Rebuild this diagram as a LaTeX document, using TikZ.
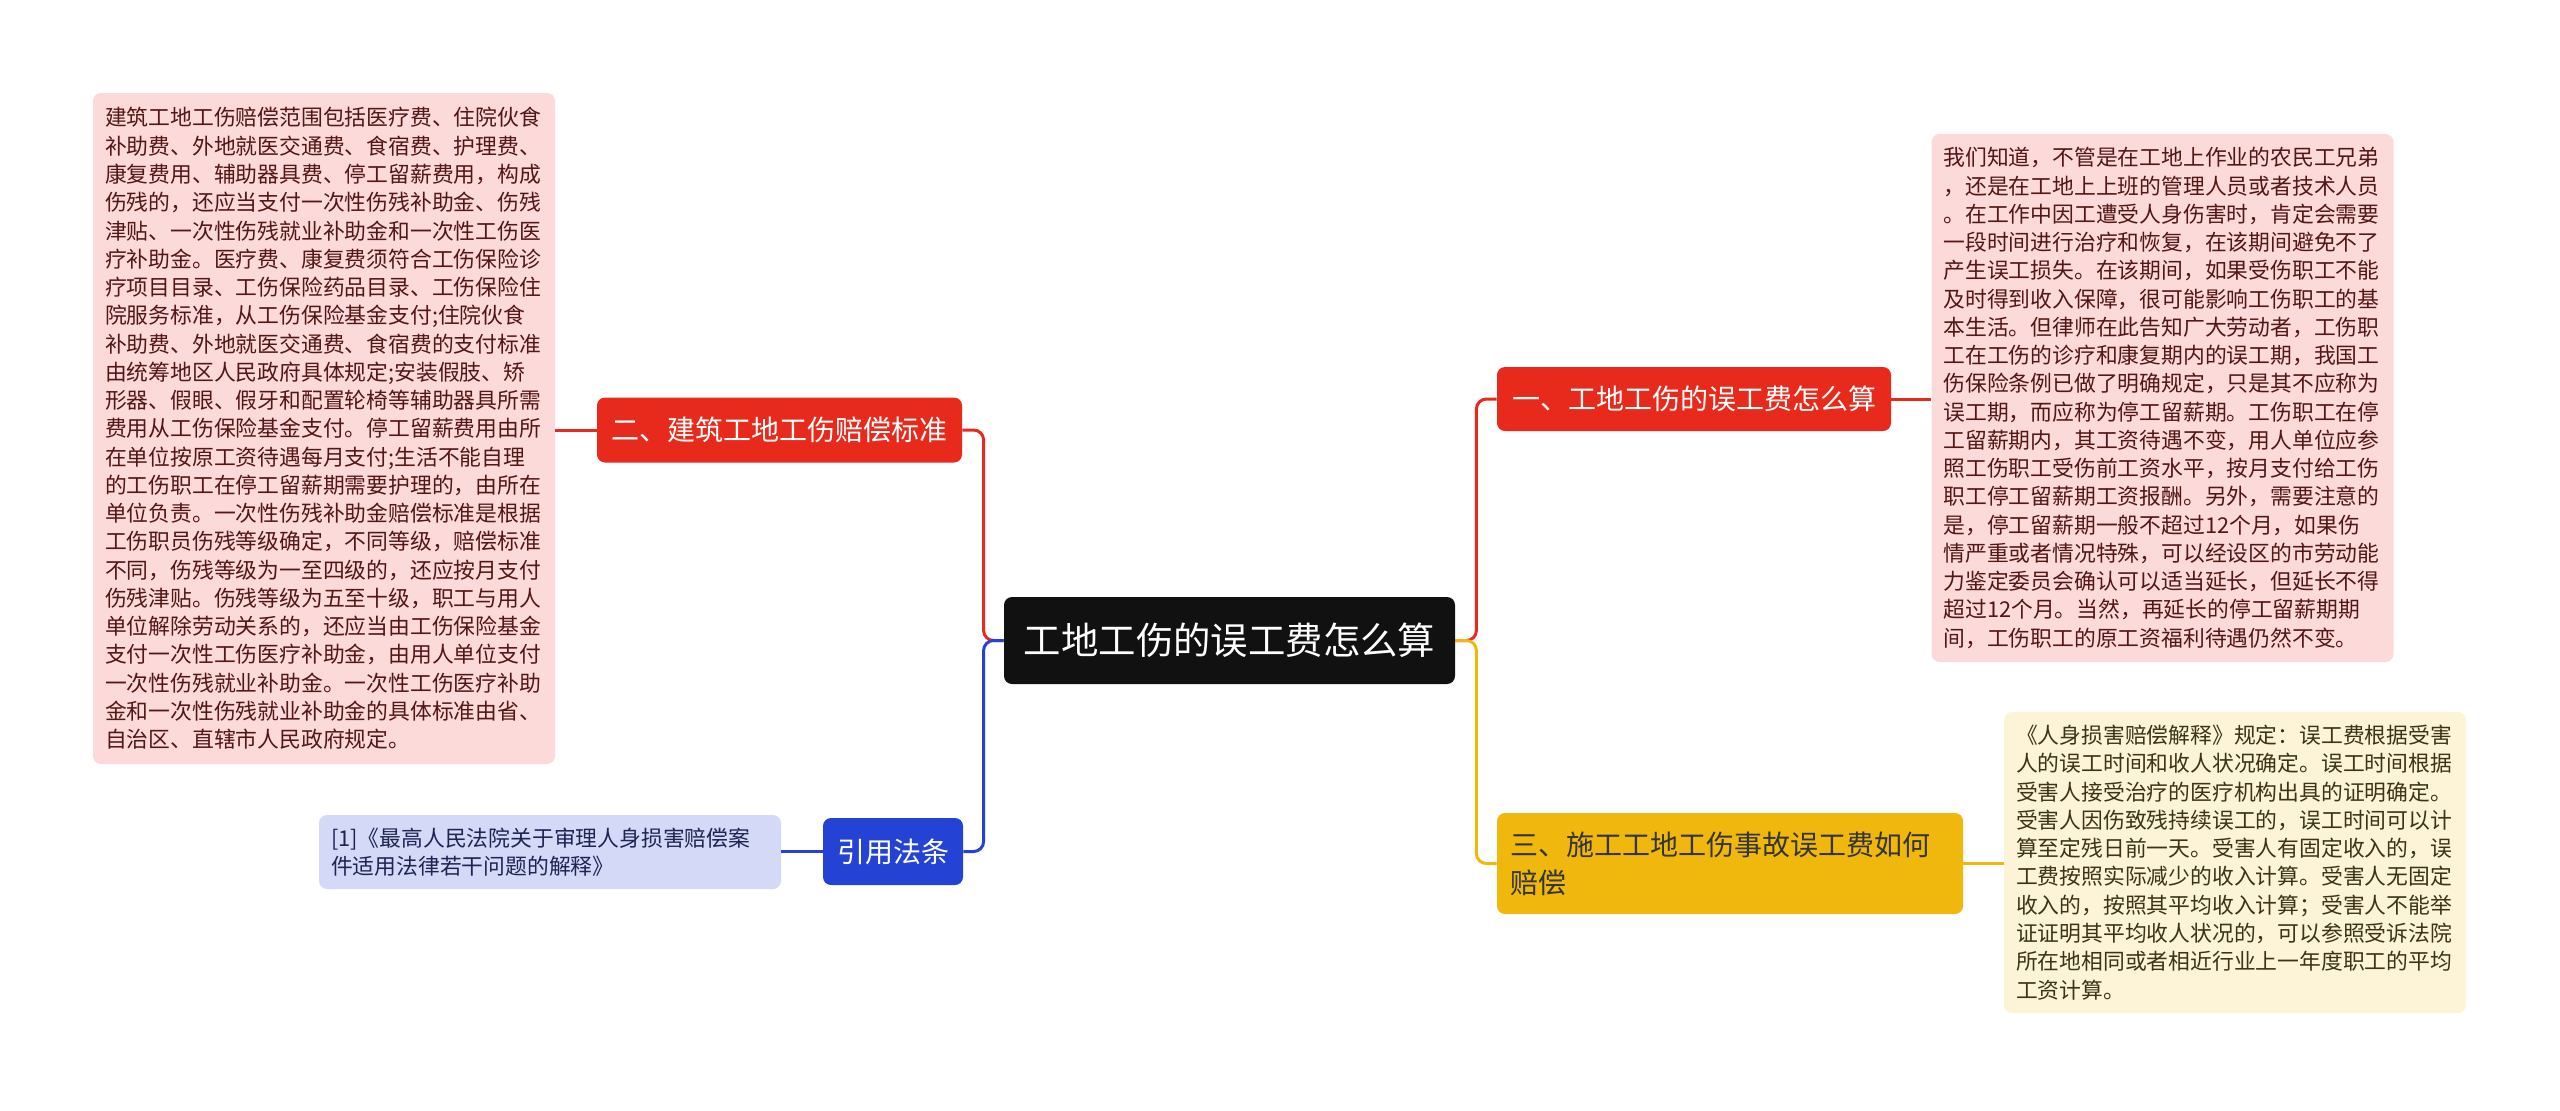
\documentclass[tikz,border=0pt]{standalone}
\usepackage{fontspec}
\setmainfont{Noto Sans CJK SC}
\usepackage{xcolor}
\usetikzlibrary{positioning}

\definecolor{mmred}{RGB}{232,42,28}
\definecolor{mmpink}{RGB}{251,218,217}
\definecolor{mmyellow}{RGB}{240,183,13}
\definecolor{mmcream}{RGB}{253,243,214}
\definecolor{mmblue}{RGB}{36,66,212}
\definecolor{mmlav}{RGB}{212,217,247}
\definecolor{mmblack}{RGB}{17,17,17}
\definecolor{inkred}{RGB}{84,22,22}
\definecolor{inkyel}{RGB}{60,52,22}
\definecolor{inkblue}{RGB}{30,36,84}

\begin{document}
\begin{tikzpicture}[x=0.5pt,y=-0.5pt,
    topic/.style={rounded corners=4pt, inner sep=0pt, align=center,
        font=\fontsize{14}{19}\selectfont},
    note/.style={rounded corners=4pt, inner xsep=6pt, inner ysep=0pt,
        text width=219pt, align=left, font=\fontsize{10.9}{14.13}\selectfont},
    link/.style={line width=1.5pt, rounded corners=5pt}]
    \useasboundingbox (0,0) rectangle (2560,1110);

    % centre and main topics
    \node[topic, fill=mmblack, text=white, minimum width=225.5pt, minimum height=43.5pt,
        font=\fontsize{18.7}{22}\selectfont] (root) at (1229.5,640.5) {工地工伤的误工费怎么算};
    \node[topic, fill=mmred, text=white, minimum width=197pt, minimum height=32pt] (sec1) at (1694,399) {一、工地工伤的误工费怎么算};
    \node[topic, fill=mmred, text=white, minimum width=182.5pt, minimum height=32.5pt] (sec2) at (779.5,430) {二、建筑工地工伤赔偿标准};
    \node[topic, fill=mmyellow, text=mmblack!85, text width=220pt, align=left, inner xsep=6.5pt,
        minimum height=50.5pt] (sec3) at (1730,863.5) {三、施工工地工伤事故误工费如何\\赔偿};
    \node[topic, fill=mmblue, text=white, minimum width=70pt, minimum height=33.5pt] (cite) at (893,851.5) {引用法条};

    % detail notes
    \node[note, fill=mmpink, text=inkred, minimum height=335.5pt] (note2) at (324,428.5) {建筑工地工伤赔偿范围包括医疗费、住院伙食\\
补助费、外地就医交通费、食宿费、护理费、\\
康复费用、辅助器具费、停工留薪费用，构成\\
伤残的，还应当支付一次性伤残补助金、伤残\\
津贴、一次性伤残就业补助金和一次性工伤医\\
疗补助金。医疗费、康复费须符合工伤保险诊\\
疗项目目录、工伤保险药品目录、工伤保险住\\
院服务标准，从工伤保险基金支付;住院伙食\\
补助费、外地就医交通费、食宿费的支付标准\\
由统筹地区人民政府具体规定;安装假肢、矫\\
形器、假眼、假牙和配置轮椅等辅助器具所需\\
费用从工伤保险基金支付。停工留薪费用由所\\
在单位按原工资待遇每月支付;生活不能自理\\
的工伤职工在停工留薪期需要护理的，由所在\\
单位负责。一次性伤残补助金赔偿标准是根据\\
工伤职员伤残等级确定，不同等级，赔偿标准\\
不同，伤残等级为一至四级的，还应按月支付\\
伤残津贴。伤残等级为五至十级，职工与用人\\
单位解除劳动关系的，还应当由工伤保险基金\\
支付一次性工伤医疗补助金，由用人单位支付\\
一次性伤残就业补助金。一次性工伤医疗补助\\
金和一次性伤残就业补助金的具体标准由省、\\
自治区、直辖市人民政府规定。};
    \node[note, fill=mmpink, text=inkred, minimum height=264pt] (note1) at (2162.5,398) {我们知道，不管是在工地上作业的农民工兄弟\\
，还是在工地上上班的管理人员或者技术人员\\
。在工作中因工遭受人身伤害时，肯定会需要\\
一段时间进行治疗和恢复，在该期间避免不了\\
产生误工损失。在该期间，如果受伤职工不能\\
及时得到收入保障，很可能影响工伤职工的基\\
本生活。但律师在此告知广大劳动者，工伤职\\
工在工伤的诊疗和康复期内的误工期，我国工\\
伤保险条例已做了明确规定，只是其不应称为\\
误工期，而应称为停工留薪期。工伤职工在停\\
工留薪期内，其工资待遇不变，用人单位应参\\
照工伤职工受伤前工资水平，按月支付给工伤\\
职工停工留薪期工资报酬。另外，需要注意的\\
是，停工留薪期一般不超过12个月，如果伤\\
情严重或者情况特殊，可以经设区的市劳动能\\
力鉴定委员会确认可以适当延长，但延长不得\\
超过12个月。当然，再延长的停工留薪期期\\
间，工伤职工的原工资福利待遇仍然不变。};
    \node[note, fill=mmcream, text=inkyel, minimum height=150.5pt] (note3) at (2235,862.5) {《人身损害赔偿解释》规定：误工费根据受害\\
人的误工时间和收人状况确定。误工时间根据\\
受害人接受治疗的医疗机构出具的证明确定。\\
受害人因伤致残持续误工的，误工时间可以计\\
算至定残日前一天。受害人有固定收入的，误\\
工费按照实际减少的收入计算。受害人无固定\\
收入的，按照其平均收入计算；受害人不能举\\
证证明其平均收人状况的，可以参照受诉法院\\
所在地相同或者相近行业上一年度职工的平均\\
工资计算。};
    \node[note, fill=mmlav, text=inkblue, minimum height=37pt] (ref1) at (550,852) {[1]《最高人民法院关于审理人身损害赔偿案\\
件适用法律若干问题的解释》};

    % connectors
    \draw[link, mmred] (root.west) -- ++(-10pt,0) |- (sec2.east);
    \draw[link, mmblue] (root.west) -- ++(-10pt,0) |- (cite.east);
    \draw[link, mmred] (root.east) -- ++(10.5pt,0) |- (sec1.west);
    \draw[link, mmyellow] (root.east) -- ++(10.5pt,0) |- (sec3.west);
    \draw[link, mmred] (sec2.west) -- (sec2.west -| note2.east);
    \draw[link, mmred] (sec1.east) -- (sec1.east -| note1.west);
    \draw[link, mmyellow] (sec3.east) -- (sec3.east -| note3.west);
    \draw[link, mmblue] (cite.west) -- (cite.west -| ref1.east);
\end{tikzpicture}
\end{document}
